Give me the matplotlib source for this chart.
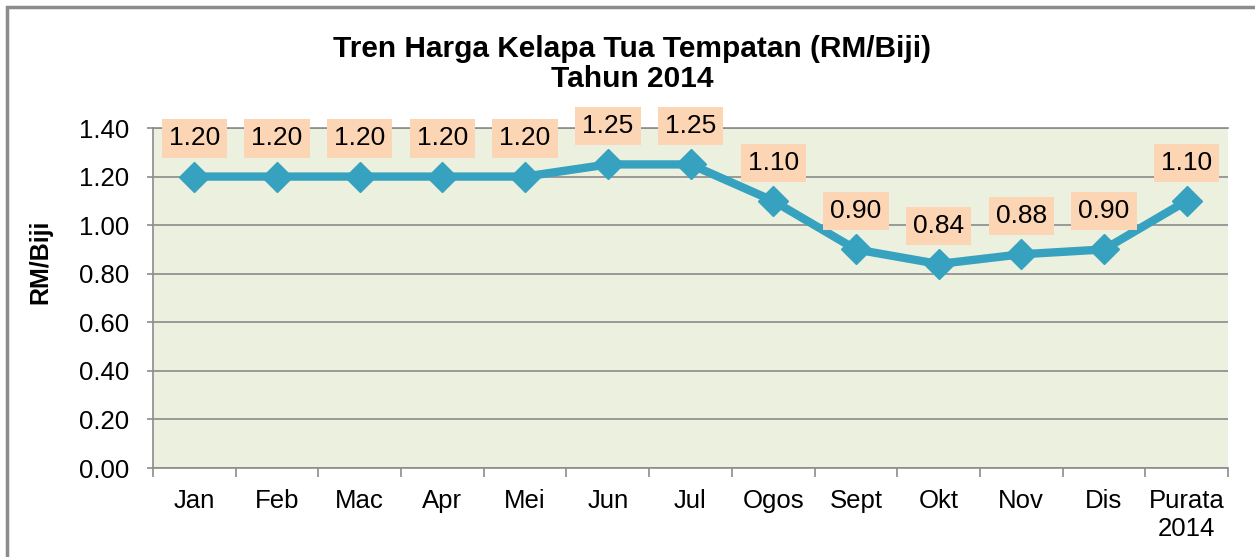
import matplotlib
matplotlib.use("Agg")
import matplotlib.pyplot as plt
from matplotlib.patches import Rectangle

months = ["Jan", "Feb", "Mac", "Apr", "Mei", "Jun", "Jul", "Ogos", "Sept", "Okt", "Nov", "Dis", "Purata\n2014"]
prices = [1.20, 1.20, 1.20, 1.20, 1.20, 1.25, 1.25, 1.10, 0.90, 0.84, 0.88, 0.90, 1.10]
yticks = [0.0, 0.2, 0.4, 0.6, 0.8, 1.0, 1.2, 1.4]

plt.rcParams['font.family'] = ['Liberation Sans', 'DejaVu Sans']

fig = plt.figure(figsize=(12.55, 5.57), dpi=100)
fig.patches.append(Rectangle((7/1255, -0.01), 1.1, 1 - 7/557 + 0.01, transform=fig.transFigure,
                             fill=False, edgecolor='#8c8c8c', linewidth=2.5))
ax = fig.add_axes([153/1255, 1 - 468/557, (1228 - 153)/1255, (468 - 128)/557])
ax.set_facecolor('#EBF1DE')
x = list(range(len(months)))
ax.set_xlim(-0.5, len(months) - 0.5)
ax.set_ylim(0, 1.4)
ax.set_yticks(yticks)
ax.set_yticklabels([f"{v:.2f}" for v in yticks], fontsize=18.5)
ax.set_xticks(x)
ax.set_xticklabels(months, fontsize=18.5, linespacing=1.2)
ax.set_xticks([i - 0.5 for i in range(len(months) + 1)], minor=True)
ax.tick_params(axis='x', which='major', length=0, pad=15)
ax.tick_params(axis='x', which='minor', length=6.5, color='#8c8c8c', width=1.2)
ax.tick_params(axis='y', length=4.5, color='#8c8c8c', width=1.2, pad=12.5)
ax.yaxis.grid(True, color='#8c8c8c', linewidth=1.2)
ax.set_axisbelow(True)
for s in ['left', 'bottom', 'top']:
    ax.spines[s].set_color('#8c8c8c')
    ax.spines[s].set_linewidth(1.2)
ax.spines['right'].set_visible(False)

ax.plot(x, prices, color='#37A2BF', linewidth=6, marker='D', markersize=15,
        markerfacecolor='#37A2BF', markeredgecolor='#37A2BF', clip_on=False, zorder=3)
for xi, v in zip(x, prices):
    ax.annotate(f"{v:.2f}", (xi, v), xytext=(0, 27.5), textcoords='offset points',
                ha='center', va='center', fontsize=19,
                bbox=dict(boxstyle='square,pad=0.27', facecolor='#FCD5B4', edgecolor='none'),
                annotation_clip=False, zorder=4)

fig.text(40/1255, 1 - 262/557, "RM/Biji", rotation=90, ha='center', va='center',
         fontsize=18, fontweight='bold')
fig.text(632/1255, 1 - 64/557, "Tren Harga Kelapa Tua Tempatan (RM/Biji)\nTahun 2014",
         ha='center', va='center', fontsize=21.5, fontweight='bold', linespacing=1.05)

fig.savefig("out.png", dpi=100)
